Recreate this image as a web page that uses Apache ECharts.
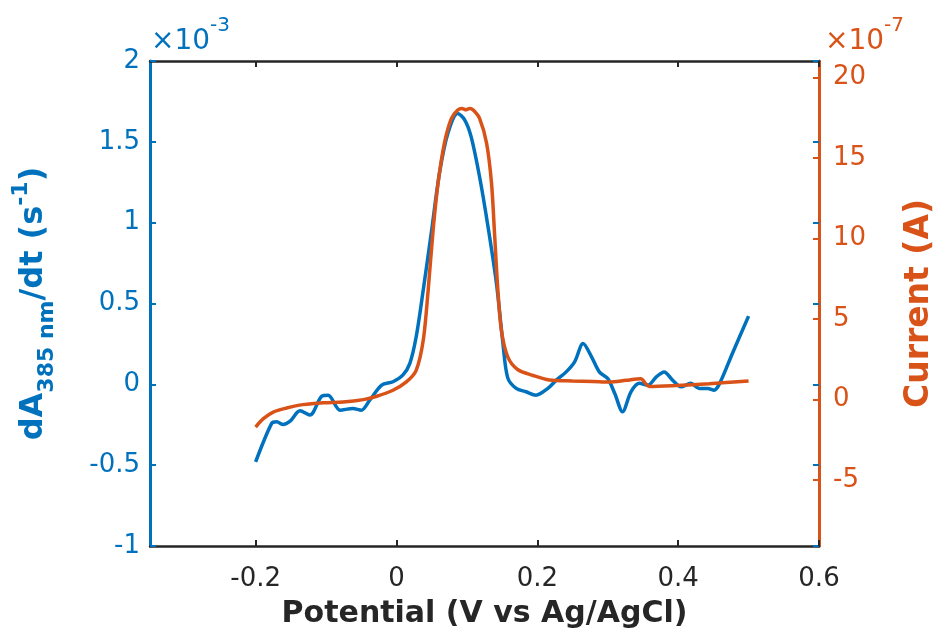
<!DOCTYPE html>
<html>
<head>
<meta charset="utf-8">
<script src="https://cdn.jsdelivr.net/npm/echarts@6/dist/echarts.min.js"></script>
<style>html,body{margin:0;padding:0;background:#fff}#c{width:941px;height:643px}</style>
</head>
<body>
<div id="c"></div>
<script>
// Blue: dA385nm/dt (x10^-3 s^-1) vs potential (V)
const potA = [-0.200,-0.177,-0.170,-0.161,-0.151,-0.137,-0.123,-0.106,-0.097,-0.080,-0.062,-0.050,-0.038,-0.021,-0.005,0.009,0.019,0.028,0.038,0.050,0.061,0.073,0.087,0.097,0.106,0.118,0.130,0.142,0.151,0.158,0.170,0.184,0.198,0.215,0.227,0.241,0.253,0.265,0.277,0.288,0.300,0.310,0.321,0.333,0.345,0.357,0.369,0.380,0.392,0.404,0.418,0.430,0.442,0.451,0.459,0.477,0.500];
const dAdt = [-0.48,-0.24,-0.232,-0.248,-0.228,-0.164,-0.19,-0.073,-0.067,-0.16,-0.149,-0.16,-0.098,-0.005,0.016,0.057,0.13,0.294,0.583,0.954,1.305,1.553,1.676,1.635,1.532,1.284,0.975,0.624,0.26,0.04,-0.025,-0.046,-0.067,-0.025,0.026,0.077,0.139,0.253,0.17,0.077,0.036,-0.057,-0.17,-0.046,0.006,-0.005,0.046,0.077,0.026,-0.015,0.006,-0.025,-0.025,-0.036,0.006,0.191,0.422];
// Orange: current (x10^-7 A) vs potential (V)
const potI = [-0.200,-0.189,-0.175,-0.156,-0.133,-0.104,-0.076,-0.047,-0.028,-0.005,0.014,0.028,0.038,0.045,0.052,0.059,0.068,0.078,0.087,0.093,0.099,0.104,0.109,0.118,0.128,0.135,0.139,0.144,0.149,0.158,0.172,0.194,0.217,0.250,0.279,0.302,0.326,0.347,0.354,0.359,0.397,0.444,0.500];
const curI = [-1.70,-1.18,-0.77,-0.52,-0.31,-0.19,-0.15,0.0,0.21,0.58,1.10,1.82,3.68,6.79,10.51,13.41,15.90,17.45,17.97,18.07,17.98,18.07,17.97,17.45,15.90,13.41,10.51,6.79,4.30,2.65,1.87,1.50,1.22,1.16,1.13,1.09,1.20,1.30,0.99,0.82,0.88,0.99,1.16];
const xTicks = [-0.2, 0, 0.2, 0.4, 0.6];
const rightTicks = [-5, 0, 5, 10, 15, 20];

const BLUE = '#0072BD', ORANGE = '#D95319', DARK = '#262626';
const FONT = 'DejaVu Sans';

const chart = echarts.init(document.getElementById('c'));
chart.setOption({
  animation: false,
  backgroundColor: '#fff',
  grid: { left: 150, right: 122, top: 61, bottom: 97, containLabel: false, outerBoundsMode: 'none' },
  xAxis: [{
    type: 'value', min: -0.35, max: 0.6, position: 'bottom',
    axisLine: { onZero: false, lineStyle: { color: DARK, width: 2.5 } },
    axisTick: { inside: true, length: 6, customValues: xTicks, lineStyle: { color: DARK, width: 2 } },
    axisLabel: { customValues: xTicks, color: DARK, fontFamily: FONT, fontSize: 26, margin: 20 },
    splitLine: { show: false },
    name: 'Potential (V vs Ag/AgCl)', nameLocation: 'middle', nameGap: 53,
    nameTextStyle: { color: DARK, fontFamily: FONT, fontWeight: 'bold', fontSize: 30 }
  }, {
    type: 'value', min: -0.35, max: 0.6, position: 'top',
    axisLine: { onZero: false, lineStyle: { color: DARK, width: 2.5 } },
    axisTick: { inside: true, length: 6, customValues: xTicks, lineStyle: { color: DARK, width: 2 } },
    axisLabel: { show: false },
    splitLine: { show: false }
  }],
  yAxis: [{
    type: 'value', min: -1, max: 2, interval: 0.5, position: 'left',
    axisLine: { show: true, onZero: false, lineStyle: { color: BLUE, width: 3 } },
    axisTick: { inside: true, length: 6, lineStyle: { color: BLUE, width: 2 } },
    axisLabel: { color: BLUE, fontFamily: FONT, fontSize: 26, margin: 10 },
    splitLine: { show: false },
    name: '{b|dA}{s|385 nm}{b|/dt (s}{p|-1}{b|)}', nameLocation: 'middle', nameGap: 92, nameRotate: 90,
    nameTextStyle: {
      color: BLUE,
      rich: {
        b: { color: BLUE, fontFamily: FONT, fontWeight: 'bold', fontSize: 32, lineHeight: 48, verticalAlign: 'middle' },
        s: { color: BLUE, fontFamily: FONT, fontWeight: 'bold', fontSize: 22, lineHeight: 48, verticalAlign: 'bottom' },
        p: { color: BLUE, fontFamily: FONT, fontWeight: 'bold', fontSize: 22, lineHeight: 48, verticalAlign: 'top' }
      }
    }
  }, {
    type: 'value', min: -9.08, max: 21.01, position: 'right',
    axisLine: { show: true, onZero: false, lineStyle: { color: ORANGE, width: 3 } },
    axisTick: { inside: true, length: 6, customValues: rightTicks, lineStyle: { color: ORANGE, width: 2 } },
    axisLabel: { customValues: rightTicks, color: ORANGE, fontFamily: FONT, fontSize: 26, margin: 14 },
    splitLine: { show: false },
    name: 'Current (A)', nameLocation: 'middle', nameGap: 84, nameRotate: 90,
    nameTextStyle: { color: ORANGE, fontFamily: FONT, fontWeight: 'bold', fontSize: 33 }
  }, {
    type: 'value', min: -1, max: 2, interval: 0.5, position: 'right',
    axisLine: { show: false, onZero: false },
    axisTick: { show: true, inside: true, length: 6, lineStyle: { color: BLUE, width: 2 } },
    axisLabel: { show: false },
    splitLine: { show: false }
  }],
  graphic: [{
    type: 'text', left: 151, top: 16,
    style: {
      text: '{a|×10}{p|-3}',
      rich: {
        a: { fill: BLUE, fontFamily: FONT, fontSize: 28, lineHeight: 40, verticalAlign: 'bottom' },
        p: { fill: BLUE, fontFamily: FONT, fontSize: 20, lineHeight: 40, verticalAlign: 'top' }
      }
    }
  }, {
    type: 'text', left: 825, top: 16,
    style: {
      text: '{a|×10}{p|-7}',
      rich: {
        a: { fill: ORANGE, fontFamily: FONT, fontSize: 28, lineHeight: 40, verticalAlign: 'bottom' },
        p: { fill: ORANGE, fontFamily: FONT, fontSize: 20, lineHeight: 40, verticalAlign: 'top' }
      }
    }
  }],
  series: [{
    type: 'line', xAxisIndex: 0, yAxisIndex: 0, showSymbol: false, smooth: 0.3,
    data: potA.map((x, i) => [x, dAdt[i]]),
    lineStyle: { color: BLUE, width: 3.5 }, itemStyle: { color: BLUE }
  }, {
    type: 'line', xAxisIndex: 0, yAxisIndex: 1, showSymbol: false, smooth: 0.3,
    data: potI.map((x, i) => [x, curI[i]]),
    lineStyle: { color: ORANGE, width: 3.5 }, itemStyle: { color: ORANGE }
  }]
});
</script>
</body>
</html>
